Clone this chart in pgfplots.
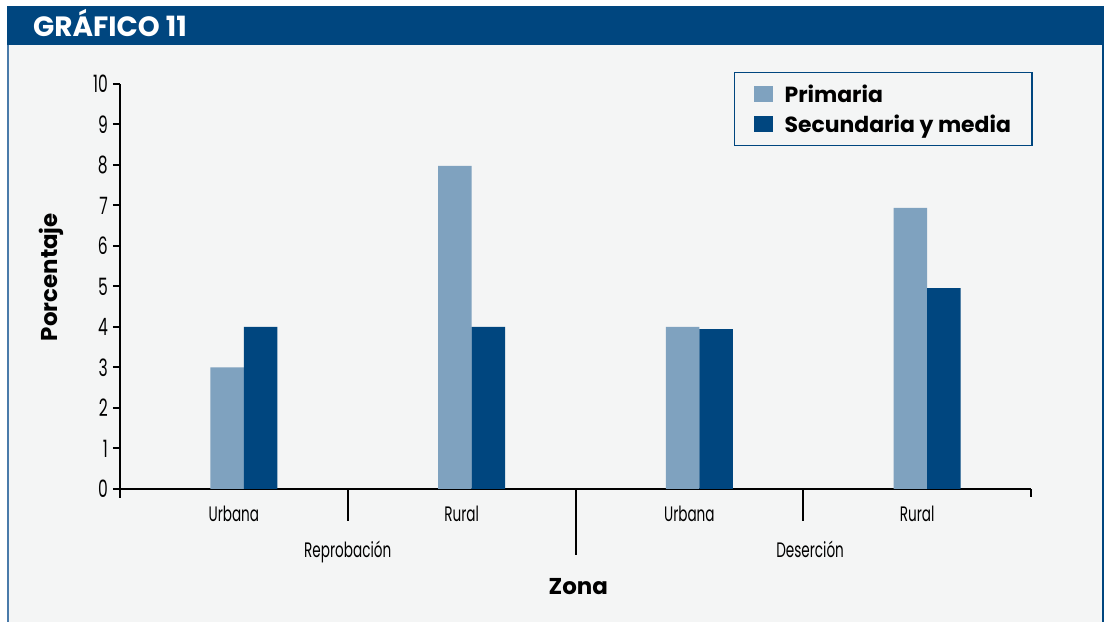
\documentclass[border=0pt]{standalone}
\usepackage{fontspec}
\setmainfont{Poppins}
\newfontfamily\condfont[FakeStretch=0.65]{Poppins}
\usepackage{pgfplots}
\pgfplotsset{compat=1.18}
\definecolor{panel}{HTML}{F4F5F5}
\definecolor{navy}{HTML}{00467F}
\definecolor{lightb}{HTML}{7FA2BF}
\definecolor{edgeb}{HTML}{4A7BAA}
\begin{document}
\begin{tikzpicture}
\useasboundingbox (0bp,0bp) rectangle (1104bp,622bp);
\fill[white] (0bp,0bp) rectangle (1104bp,622bp);
\fill[panel] (8bp,0bp) rectangle (1104bp,577bp);
\draw[edgeb, line width=2bp] (8bp,0bp) -- (8bp,577bp);
\draw[navy, line width=1.5bp] (1103bp,0bp) -- (1103bp,577bp);
\fill[navy] (7bp,577bp) rectangle (1104bp,616bp);
\node[anchor=base west, text=white, font=\fontsize{28}{30}\selectfont\bfseries, inner sep=0pt] at (33bp,585bp) {GRÁFICO 11};
\begin{axis}[
  at={(120bp,133bp)}, anchor=south west,
  width=911bp, height=405bp, scale only axis,
  xmin=-0.5, xmax=3.5, ymin=0, ymax=10,
  clip=false,
  axis x line=bottom, axis y line=left,
  axis line style={-, line width=2bp, black},
  ytick={0,1,...,10},
  tick align=outside, major tick length=7bp,
  ytick style={line width=2bp, black},
  xtick={0,1,2,3}, xticklabels={Urbana,Rural,Urbana,Rural},
  xtick style={draw=none},
  /pgf/number format/assume math mode=true,
  yticklabel style={font=\condfont\fontsize{24}{24}\selectfont, inner sep=0pt, xshift=-5bp},
  xticklabel style={font=\condfont\fontsize{21}{21}\selectfont, anchor=base, inner sep=0pt, yshift=-26bp},
  ylabel={Porcentaje},
  ylabel style={font=\fontsize{23}{23}\selectfont\bfseries, at={(rel axis cs:-0.075,0.523)}, anchor=center, rotate=0},
  xlabel={Zona},
  xlabel style={font=\fontsize{23}{23}\selectfont\bfseries, at={(rel axis cs:0.503,-0.242)}, anchor=center},
  legend style={at={(rel axis cs:0.674,1.0296)}, anchor=north west, draw=navy, line width=1.2bp, fill=panel,
    font=\fontsize{22}{24}\selectfont\bfseries, inner xsep=19bp, inner ysep=10bp, row sep=7bp, column sep=10bp,
    cells={anchor=west}},
  legend cell align=left,
  legend image code/.code={\fill[#1] (0bp,-8bp) rectangle (19bp,8bp);},
]
\addplot[ybar, fill=lightb, draw=none, bar width=0.147, bar shift=-0.0735]
  coordinates {(0.044,3) (1.044,7.98) (2.044,4) (3.044,6.94)};
\addplot[ybar, fill=navy, draw=none, bar width=0.147, bar shift=0.0735]
  coordinates {(0.044,4) (1.044,4) (2.044,3.95) (3.044,4.96)};
\legend{Primaria, Secundaria y media}
\draw[line width=2bp] (rel axis cs:0,0) -- ++(0bp,-9bp);
\draw[line width=2bp] (rel axis cs:1,0) -- ++(0bp,-8bp);
\draw[line width=2bp] (axis cs:0.5,0) -- ++(0bp,-32bp);
\draw[line width=2bp] (axis cs:1.5,0) -- ++(0bp,-66bp);
\draw[line width=2bp] (axis cs:2.5,0) -- ++(0bp,-32bp);
\node[anchor=base, font=\condfont\fontsize{21}{21}\selectfont, inner sep=0pt] at ([yshift=-68bp]axis cs:0.5,0) {Reprobación};
\node[anchor=base, font=\condfont\fontsize{21}{21}\selectfont, inner sep=0pt] at ([yshift=-68bp]axis cs:2.53,0) {Deserción};
\end{axis}
\end{tikzpicture}
\end{document}
